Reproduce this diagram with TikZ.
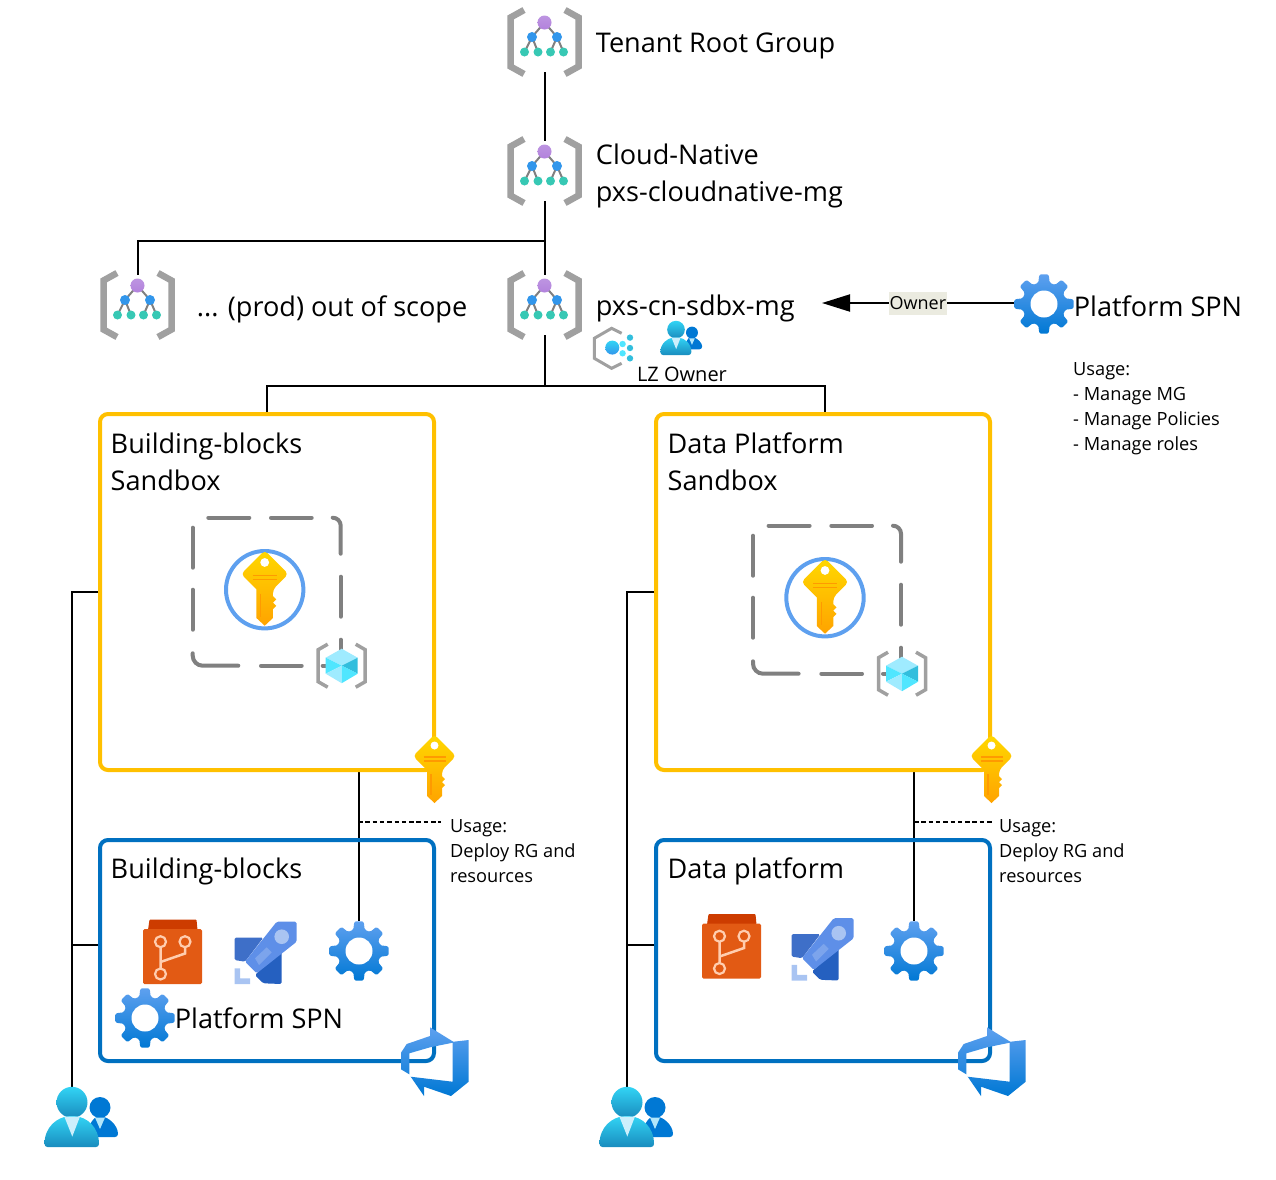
\documentclass[tikz,border=0pt]{standalone}
\usepackage{fontspec}
\setmainfont{Open Sans}
\usetikzlibrary{arrows.meta, positioning, backgrounds}
\definecolor{bracketgray}{RGB}{160,160,160}
\definecolor{dashgray}{RGB}{128,128,128}
\definecolor{sandyellow}{RGB}{255,192,0}
\definecolor{projblue}{RGB}{0,112,192}
\definecolor{gearlight}{RGB}{94,160,239}
\definecolor{gearblue}{RGB}{0,120,212}
\definecolor{keytop}{RGB}{255,216,0}
\definecolor{keybottom}{RGB}{255,163,0}
\definecolor{keyline}{RGB}{255,154,0}
\definecolor{mgpurple}{RGB}{178,130,220}
\definecolor{mgblue}{RGB}{50,150,235}
\definecolor{mgteal}{RGB}{55,200,180}
\definecolor{usertop}{RGB}{50,212,245}
\definecolor{userbottom}{RGB}{25,140,190}
\definecolor{repoorange}{RGB}{226,90,20}
\definecolor{repodark}{RGB}{205,60,0}
\definecolor{repoline}{RGB}{255,205,175}
\definecolor{rocketmain}{RGB}{94,143,232}
\definecolor{rocketwing}{RGB}{62,111,200}
\definecolor{rocketdark}{RGB}{37,96,192}
\definecolor{rocketpale}{RGB}{169,196,242}
\definecolor{ownerbeige}{RGB}{235,235,224}
\definecolor{cubepale}{RGB}{159,235,255}
\definecolor{cubebright}{RGB}{80,230,255}
\definecolor{cubedark}{RGB}{50,190,221}
\tikzset{
  mgicon/.pic={
    \draw[line width=6.5pt, bracketgray] (-20.5,-32) -- (-34,-24.5) -- (-34,24.5) -- (-20.5,32);
    \draw[line width=6.5pt, bracketgray] (20.5,-32) -- (34,-24.5) -- (34,24.5) -- (20.5,32);
    \draw[line width=2pt, dashgray] (0,-19.5) -- (-12.5,-5) -- (-20,10) (-12.5,-5) -- (-6.5,10)
      (0,-19.5) -- (12.5,-5) -- (6,10) (12.5,-5) -- (19,10);
    \shade[top color=mgpurple!85, bottom color=mgpurple] (0,-19.5) circle (7pt);
    \foreach \tx in {-12.5,12.5} \fill[mgblue] (\tx,-5) circle (5pt);
    \foreach \tx in {-20,-6.5,6,19} \fill[mgteal] (\tx,10) circle (4.5pt);
  },
  gearicon/.pic={
    \shade[top color=gearlight, middle color=gearlight!90!gearblue, bottom color=gearblue, rounded corners=1.5pt] (-9:30pt)
      \foreach \a in {0,45,...,315} { -- (\a-9:30pt) -- (\a+9:30pt) -- (\a+15:22pt) -- (\a+30:22pt) } -- cycle;
    \fill[white] (0,0) circle (13.5pt);
  },
  keyicon/.pic={
    \shade[top color=keytop, bottom color=keybottom, rounded corners=4pt]
      (0,-21.5) -- (21.5,0) -- (7.5,14) [sharp corners] -- (7.5,20) -- (10.5,23) -- (7.5,26) -- (10.5,29) -- (7.5,32) -- (7.5,40)
      -- (0,47) -- (-7.5,40) -- (-7.5,14) [rounded corners=4pt] -- (-21.5,0) -- cycle;
    \fill[white] (0,-10.5) circle (4pt);
    \draw[keyline, line width=1.2pt] (-11,1) -- (11,1) (-11,5) -- (11,5) (-3.5,18) -- (-3.5,39);
  },
  usersicon/.pic={
    \fill[gearblue] (28,-9.5) circle (10.5pt);
    \fill[gearblue, rounded corners=3pt] (16,20) .. controls (16,8) and (22,0) .. (28,0)
      .. controls (36,0) and (46,8) .. (46,20) -- cycle;
    \fill[white!70!cyan] (23,0.5) -- (33,0.5) -- (28,12) -- cycle;
    \shade[top color=usertop, bottom color=userbottom] (0,-14.7) circle (15.5pt);
    \shade[top color=usertop, bottom color=userbottom, rounded corners=3pt] (-27.5,30)
      .. controls (-27.5,10) and (-15,0) .. (0,-1) .. controls (15,0) and (27,10) .. (27,30) -- cycle;
    \fill[white!80!cyan] (-7.7,-0.5) -- (8,-0.5) -- (0.3,19.5) -- cycle;
  },
  cubeicon/.pic={
    \draw[line width=3.5pt, bracketgray] (-14,-21.5) -- (-23.5,-16) -- (-23.5,16) -- (-14,21.5);
    \draw[line width=3.5pt, bracketgray] (14,-21.5) -- (23.5,-16) -- (23.5,16) -- (14,21.5);
    \fill[cubepale] (0,-17) -- (16,-8) -- (0,0) -- (-16,-8) -- cycle;
    \fill[cubebright] (-16,-8) -- (0,0) -- (-16,8) -- cycle;
    \fill[cubedark] (16,-8) -- (0,0) -- (16,8) -- cycle;
    \fill[cubepale] (-16,8) -- (0,0) -- (0,17.5) -- cycle;
    \fill[cubebright] (16,8) -- (0,0) -- (0,17.5) -- cycle;
  },
  vaulticon/.pic={
    \draw[dashgray, line width=4pt, line cap=round] (-56.4,-72) -- (-15.4,-72) (6.3,-72) -- (47,-72)
      (-72,-62) -- (-72,-22) (-72,0) -- (-72,40) (76,-13) -- (76,27) (76,50) -- (76,60) (-3.7,76) -- (37,76) (58,76) -- (62,76);
    \draw[dashgray, line width=4pt, line cap=round, rounded corners=8pt] (68,-72) -- (76,-72) -- (76,-36);
    \draw[dashgray, line width=4pt, line cap=round, rounded corners=10pt] (-72,63.6) -- (-72,76) -- (-26.4,76);
    \draw[gearlight, line width=4pt] (0,0) circle (38.7pt);
    \pic[scale=1.1] at (0,-15.7) {keyicon};
    \pic at (77,76) {cubeicon};
  },
  repoicon/.pic={
    \fill[repodark, rounded corners=1pt] (-24.5,-21) -- (-23,-31.5) -- (24,-31.5) -- (25,-21) -- cycle;
    \fill[repoorange, rounded corners=1.5pt] (-29.5,-22) rectangle (29.5,33);
    \draw[repoline, line width=2.5pt] (-12,-3.5) -- (-12,17) (-12,11) -- (12.5,2.5) -- (12.5,-3.5);
    \draw[repoline, line width=2.2pt] (-12,-9.3) circle (5.5pt) (12.5,-9.3) circle (5.5pt) (-12,23) circle (5.5pt);
  },
  rocketicon/.pic={
    \fill[rocketwing, rounded corners=1.5pt] (-31,-15.3) -- (-2.2,-15.3) -- (-20.5,8.7) -- (-31,7) -- cycle;
    \fill[rocketdark, rounded corners=1.5pt] (16.2,-3) -- (16.2,31) -- (-2.2,30.3) -- (-10.5,22) -- cycle;
    \fill[rocketmain, rounded corners=1.5pt] (11.2,-31.3) -- (31.2,-31.3) -- (31.2,-11.3) -- (-8.8,20.3) -- (-20.5,8.7) -- cycle;
    \fill[rocketpale] (16.2,-16.3) circle (7.3pt);
    \fill[rocketpale!40!rocketmain] (-10.5,5.3) -- (1.2,-5.7) -- (6.2,-0.7) -- (-6.5,12) -- cycle;
    \fill[rocketpale] (-31,15.3) -- (-25.5,15.3) -- (-25.5,25.3) -- (-15.5,25.3) -- (-15.5,31) -- (-31,31) -- cycle;
  },
  devopsicon/.pic={
    \shade[top color=gearlight, middle color=gearlight!90!gearblue, bottom color=gearblue] (-5,-34.7) -- (18.3,-20.3) -- (33.7,-22) -- (33.7,19.7)
      -- (16,34) -- (-11,24.7) -- (-11,34) -- (-24.3,14.7) -- (17.7,19.7) -- (17.7,-19.3) -- (-5,-14.7)
      -- (-25.7,-8.7) -- (-25.7,12.3) -- (-34,7.3) -- (-34,-9.3) -- (-28.3,-18) -- (-5,-26) -- cycle;
  },
  hexicon/.pic={
    \draw[line width=3pt, bracketgray] (8.3,-15) -- (-1.7,-20) -- (-19,-10) -- (-19,10) -- (-1.7,20) -- (8.3,15);
    \shade[top color=usertop, bottom color=mgblue] (-1,-0.7) circle (7pt);
    \foreach \dx/\dy in {16.7/-10.7,16.7/-0.3,16.7/10} \fill[cubedark] (\dx,\dy) circle (3.2pt);
    \foreach \dx/\dy in {9.3/-4.3,9.3/5} \fill[cubebright] (\dx,\dy) circle (3.2pt);
  }
}
\begin{document}
\begin{tikzpicture}[
  x=1pt, y=-1pt,
  mgnode/.style={minimum width=74pt, minimum height=60pt, inner sep=0pt},
  gearnode/.style={minimum size=60pt, inner sep=0pt},
  usersnode/.style={minimum width=74pt, minimum height=60pt, inner sep=0pt},
  sandbox/.style={draw=sandyellow, line width=4pt, rounded corners=8pt, minimum width=334pt, minimum height=356pt},
  project/.style={draw=projblue, line width=4pt, rounded corners=8pt, minimum width=334pt, minimum height=221pt},
  bigtext/.style={inner sep=0pt, align=left, font=\fontsize{27.1}{37}\selectfont},
  smalltext/.style={inner sep=0pt, align=left, font=\fontsize{18.2}{25}\selectfont},
  link/.style={line width=2pt, black},
  usageline/.style={line width=2pt, dash pattern=on 4.5pt off 2.8pt}
]
  \useasboundingbox (0,0) rectangle (1276,1179);

  \node[mgnode] (root) at (544.5,42) {};
  \node[mgnode] (cloud) at (544.5,171) {};
  \node[mgnode] (prod) at (137.5,305) {};
  \node[mgnode] (sdbx) at (544.5,305) {};
  \node[gearnode] (spn) at (1044,304) {};
  \node[usersnode] (lzusers) at (676,338) {};
  \node[sandbox] (bbsand) at (267,592) {};
  \node[sandbox] (dpsand) at (823,592) {};
  \node[project] (bbproj) at (267,950.5) {};
  \node[project] (dpproj) at (823,950.5) {};
  \node[gearnode] (bbgear) at (359,951) {};
  \node[gearnode] (dpgear) at (914,951) {};
  \node[gearnode] (bbspn) at (145,1018) {};
  \node[usersnode] (bbusers) at (72,1117) {};
  \node[usersnode] (dpusers) at (627,1117) {};

  \node[bigtext, right=14pt of root, yshift=-4pt] (roottext) {Tenant Root Group};
  \node[bigtext, right=14pt of cloud, yshift=-5pt] (cloudtext) {Cloud-Native\\pxs-cloudnative-mg};
  \node[bigtext, right=22pt of prod, yshift=-4pt] (prodtext) {... (prod) out of scope};
  \node[bigtext, right=14pt of sdbx, yshift=-3.5pt] (sdbxtext) {pxs-cn-sdbx-mg};
  \node[bigtext, right=-0.5pt of spn, yshift=-2pt] (spntext) {Platform SPN};
  \node[smalltext, anchor=north west] (spnusage) at (1073,362) {Usage:\\- Manage MG\\- Manage Policies\\- Manage roles};
  \node[smalltext, font=\fontsize{20}{25}\selectfont] (lztext) at (682,374) {LZ Owner};
  \node[bigtext, anchor=north west] (bbsandtext) at (110.5,433) {Building-blocks\\Sandbox};
  \node[bigtext, anchor=north west] (dpsandtext) at (667.5,432.5) {Data Platform\\Sandbox};
  \node[bigtext, anchor=north west] (bbprojtext) at (110.5,858) {Building-blocks};
  \node[bigtext, anchor=north west] (dpprojtext) at (667.5,857.5) {Data platform};
  \node[bigtext, right=-0.5pt of bbspn] (bbspntext) {Platform SPN};
  \node[smalltext, anchor=north west] (bbusage) at (450,819) {Usage:\\Deploy RG and\\resources};
  \node[smalltext, anchor=north west] (dpusage) at (999,819) {Usage:\\Deploy RG and\\resources};

  \coordinate (split) at (544.5,241);
  \coordinate (fork) at (544.5,386);
  \coordinate (ownerend) at (822,303);
  \coordinate (bbtap) at (72,945);
  \coordinate (dptap) at (627,945);
  \coordinate (bbdot) at (358,822);
  \coordinate (bbdotend) at (441,822);
  \coordinate (dpdot) at (914,822);
  \coordinate (dpdotend) at (993,822);

  \draw[link] (root.south) -- (cloud.north);
  \draw[link] (cloud.south) -- (sdbx.north);
  \draw[link] (split) -| (prod.north);
  \draw[link] (sdbx.south) -- (fork);
  \draw[link] (bbsand.north) |- (fork) -| ([xshift=2pt]dpsand.north);
  \draw[link, -{Triangle[length=28pt, width=17pt]}] (spn.west |- ownerend) -- node[fill=ownerbeige, inner sep=1pt, minimum width=57pt, minimum height=23pt, font=\fontsize{18}{20}\selectfont] (owner) {Owner} (ownerend);
  \draw[link] (bbsand.west) -| (bbusers.north);
  \draw[link] (dpsand.west) -| (dpusers.north);
  \draw[link] (bbtap) -- (bbproj.west |- bbtap);
  \draw[link] (dptap) -- (dpproj.west |- dptap);
  \begin{scope}[on background layer]
    \draw[link] (bbgear.north |- bbsand.south) -- (bbgear.north);
    \draw[link] (dpgear.north |- dpsand.south) -- (dpgear.north);
  \end{scope}
  \draw[usageline] (bbdot) -- (bbdotend);
  \draw[usageline] (dpdot) -- (dpdotend);

  \pic at (root) {mgicon};
  \pic at (cloud) {mgicon};
  \pic at (prod) {mgicon};
  \pic at (sdbx) {mgicon};
  \pic at (spn) {gearicon};
  \pic at (613.3,348.3) {hexicon};
  \pic[scale=0.57] at (lzusers) {usersicon};
  \pic at (264.7,589.7) {vaulticon};
  \pic at (825,597.7) {vaulticon};
  \pic at (434.5,756) {keyicon};
  \pic at (991.5,756) {keyicon};
  \pic at (172.5,951) {repoicon};
  \pic at (731.5,945.5) {repoicon};
  \pic at (265.5,953) {rocketicon};
  \pic at (822.5,949.5) {rocketicon};
  \pic at (bbgear) {gearicon};
  \pic at (dpgear) {gearicon};
  \pic at (bbspn) {gearicon};
  \pic at (435,1062) {devopsicon};
  \pic at (992,1062) {devopsicon};
  \pic at (bbusers) {usersicon};
  \pic at (dpusers) {usersicon};
\end{tikzpicture}
\end{document}
